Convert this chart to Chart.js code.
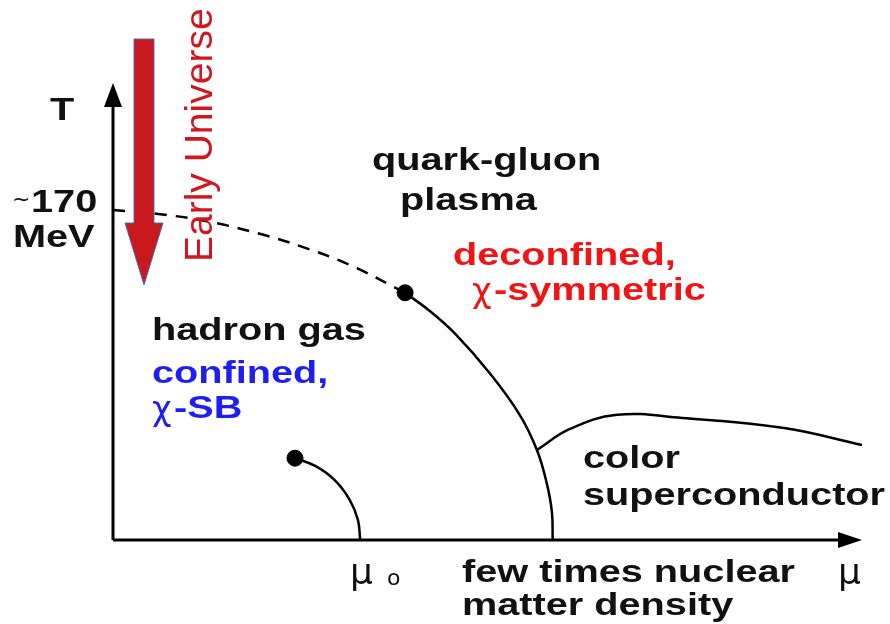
<!DOCTYPE html>
<html>
<head>
<meta charset="utf-8">
<script src="https://cdn.jsdelivr.net/npm/chart.js@4.4.1/dist/chart.umd.min.js"></script>
<style>
  html, body { margin: 0; padding: 0; background: #fff; }
  #wrap { width: 890px; height: 624px; }
</style>
</head>
<body>
<div id="wrap"><canvas id="phaseChart"></canvas></div>
<script>
// Данные диаграммы (единицы шкалы: mu 0..100, T 0..100)
const crossoverX = [0, 6.3, 13.0, 19.6, 25.0, 31.6, 39.0];
const crossoverY = [72.2, 71.3, 69.6, 67.0, 64.3, 60.2, 54.1];

const firstOrderX = [39.0, 42.3, 45.7, 50.3, 54.3, 56.6, 57.9, 58.6, 58.7];
const firstOrderY = [54.1, 50.1, 45.1, 36.5, 27.4, 19.7, 12.5, 6.1, 0];

const nuclearX = [24.3, 27.0, 29.6, 31.6, 32.7, 33.0];
const nuclearY = [17.9, 16.2, 13.1, 8.8, 4.4, 0];

const cscX = [56.6, 61.0, 67.3, 76.0, 89.6, 100];
const cscY = [19.7, 24.3, 27.4, 26.7, 24.5, 20.8];

const endPointsX = [39.0, 24.3];
const endPointsY = [54.1, 17.9];

// Подписи
const FONT = '"Liberation Sans", Arial, sans-serif';
const labels = [
    { text: 'T', x: 50, y: 120, color: '#111' },
    { text: '170', x: 31, y: 212, color: '#111' },
    { text: 'MeV', x: 13, y: 247, color: '#111' },
    { text: 'quark-gluon', x: 372, y: 170, color: '#111' },
    { text: 'plasma', x: 400, y: 210, color: '#111' },
    { text: 'deconfined,', x: 453, y: 265, color: '#f01414' },
    { text: '-symmetric', x: 494, y: 300, color: '#f01414' },
    { text: 'hadron gas', x: 152, y: 340, color: '#111' },
    { text: 'confined,', x: 152, y: 383, color: '#1e1ef0' },
    { text: '-SB', x: 174, y: 418, color: '#1e1ef0' },
    { text: 'color', x: 583, y: 468, color: '#111' },
    { text: 'superconductor', x: 583, y: 505, color: '#111' },
    { text: 'few times nuclear', x: 462, y: 582, color: '#111' },
    { text: 'matter density', x: 462, y: 615, color: '#111' }
];
const symbols = [
    { text: 'χ', x: 472, y: 302, color: '#f01414', size: 34 },
    { text: 'χ', x: 152, y: 420, color: '#1e1ef0', size: 34 },
    { text: 'μ', x: 350, y: 584, color: '#111', size: 36 },
    { text: 'o', x: 387, y: 585, color: '#111', size: 22 },
    { text: 'μ', x: 838, y: 584, color: '#111', size: 36 },
    { text: '~', x: 12, y: 206, color: '#111', size: 22 }
];

function toPoints(xs, ys) {
    return xs.map((x, i) => ({ x: x, y: ys[i] }));
}

const diagramPlugin = {
    id: 'diagram',
    beforeDatasetsDraw(chart) {
        const ctx = chart.ctx;
        const xs = chart.scales.x;
        const ys = chart.scales.y;
        const x0 = xs.getPixelForValue(0);
        const y0 = ys.getPixelForValue(0);
        const xEnd = xs.getPixelForValue(100);
        const yEnd = ys.getPixelForValue(100);

        ctx.save();
        ctx.strokeStyle = '#000';
        ctx.fillStyle = '#000';
        ctx.lineWidth = 3;
        ctx.beginPath();
        ctx.moveTo(x0, y0);
        ctx.lineTo(x0, yEnd + 20);
        ctx.moveTo(x0, y0);
        ctx.lineTo(xEnd - 20, y0);
        ctx.stroke();
        // стрелки осей
        ctx.beginPath();
        ctx.moveTo(x0, yEnd);
        ctx.lineTo(x0 - 9, yEnd + 24);
        ctx.lineTo(x0 + 9, yEnd + 24);
        ctx.closePath();
        ctx.fill();
        ctx.beginPath();
        ctx.moveTo(xEnd, y0);
        ctx.lineTo(xEnd - 24, y0 - 8);
        ctx.lineTo(xEnd - 24, y0 + 8);
        ctx.closePath();
        ctx.fill();
        ctx.restore();
    },
    afterDraw(chart) {
        const ctx = chart.ctx;
        ctx.save();
        ctx.textBaseline = 'alphabetic';
        ctx.textAlign = 'left';

        labels.forEach(l => {
            ctx.save();
            ctx.translate(l.x, l.y);
            ctx.scale(1.28, 1);
            ctx.font = 'bold 31px ' + FONT;
            ctx.fillStyle = l.color;
            ctx.fillText(l.text, 0, 0);
            ctx.restore();
        });
        symbols.forEach(s => {
            ctx.font = s.size + 'px "DejaVu Sans", ' + FONT;
            ctx.fillStyle = s.color;
            ctx.fillText(s.text, s.x, s.y);
        });

        // красная стрелка "Early Universe"
        ctx.beginPath();
        ctx.moveTo(134, 39);
        ctx.lineTo(154, 39);
        ctx.lineTo(154, 223);
        ctx.lineTo(163, 223);
        ctx.lineTo(144, 285);
        ctx.lineTo(125, 223);
        ctx.lineTo(134, 223);
        ctx.closePath();
        ctx.fillStyle = '#c8181e';
        ctx.fill();
        ctx.lineWidth = 1;
        ctx.strokeStyle = '#4a6fb5';
        ctx.stroke();

        ctx.save();
        ctx.translate(212, 262);
        ctx.rotate(-Math.PI / 2);
        ctx.font = '39px ' + FONT;
        ctx.fillStyle = '#d0161e';
        ctx.fillText('Early Universe', 0, 0);
        ctx.restore();
        ctx.restore();
    }
};

const lineStyle = {
    showLine: true,
    borderColor: '#000',
    borderWidth: 2.5,
    pointRadius: 0,
    tension: 0.4,
    fill: false,
    clip: false
};

new Chart('phaseChart', {
    type: 'scatter',
    data: {
        datasets: [
            Object.assign({ label: 'crossover', data: toPoints(crossoverX, crossoverY), borderDash: [12, 9] }, lineStyle),
            Object.assign({ label: 'first order', data: toPoints(firstOrderX, firstOrderY) }, lineStyle),
            Object.assign({ label: 'nuclear', data: toPoints(nuclearX, nuclearY) }, lineStyle),
            Object.assign({ label: 'color superconductor', data: toPoints(cscX, cscY) }, lineStyle),
            {
                label: 'end points',
                data: toPoints(endPointsX, endPointsY),
                pointRadius: 8,
                pointBackgroundColor: '#000',
                pointBorderColor: '#000',
                showLine: false,
                clip: false
            }
        ]
    },
    options: {
        responsive: true,
        maintainAspectRatio: false,
        animation: false,
        layout: { padding: { left: 113, right: 28, top: 83, bottom: 84 } },
        scales: {
            x: { type: 'linear', min: 0, max: 100, display: false },
            y: { type: 'linear', min: 0, max: 100, display: false }
        },
        plugins: {
            legend: { display: false },
            tooltip: { enabled: false }
        }
    },
    plugins: [diagramPlugin]
});
</script>
</body>
</html>
